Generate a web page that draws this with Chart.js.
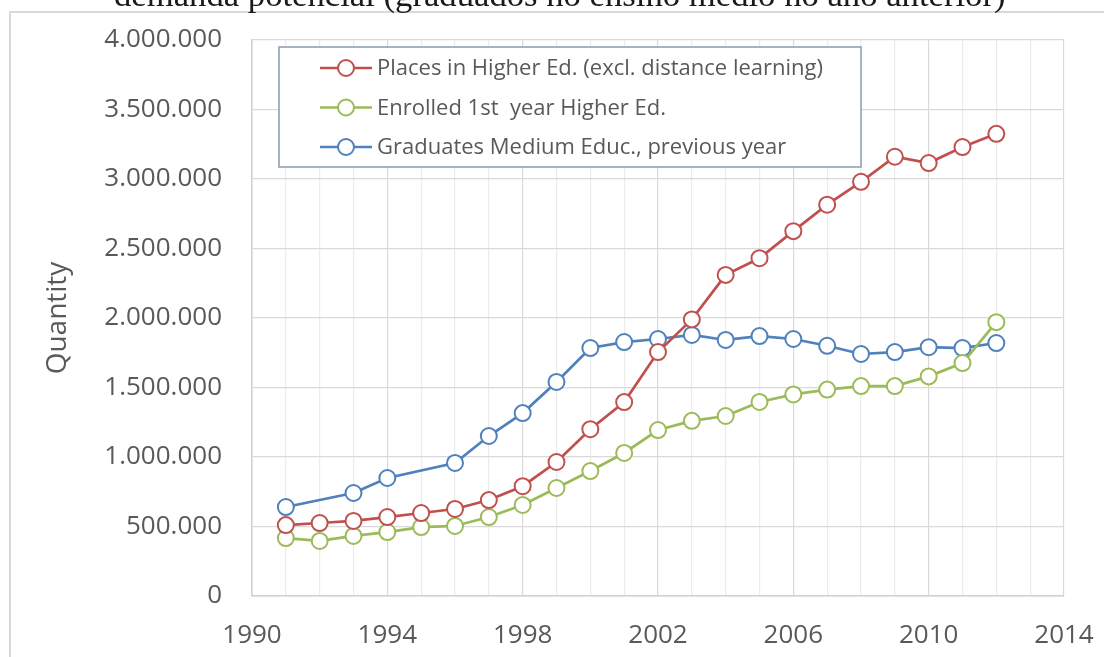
<!DOCTYPE html>
<html>
<head>
<meta charset="utf-8">
<script src="https://cdn.jsdelivr.net/npm/chart.js@4.4.1/dist/chart.umd.min.js"></script>
<style>
  html, body { margin: 0; padding: 0; background: #ffffff; overflow: hidden; }
  #wrap { position: relative; width: 1104px; height: 657px; }
</style>
</head>
<body>
<div id="wrap"><canvas id="c" width="1104" height="657"></canvas></div>
<script>
// ---- data ----
const chartTitle = 'demanda potencial (graduados no ensino médio no ano anterior)';
const years = [1991, 1992, 1993, 1994, 1995, 1996, 1997, 1998, 1999, 2000, 2001,
               2002, 2003, 2004, 2005, 2006, 2007, 2008, 2009, 2010, 2011, 2012];
const placesHigherEd = [510000, 525000, 540000, 568000, 597000, 626000, 690000, 790000, 964000, 1200000, 1395000,
                        1755000, 1990000, 2310000, 2430000, 2625000, 2815000, 2980000, 3160000, 3115000, 3230000, 3325000];
const enrolledFirstYear = [417000, 396000, 432000, 460000, 496000, 504000, 568000, 655000, 777000, 899000, 1029000,
                           1194000, 1260000, 1295000, 1396000, 1450000, 1485000, 1510000, 1510000, 1580000, 1676000, 1970000];
const graduatesMedium = [640000, null, 741000, 849000, null, 957000, 1151000, 1316000, 1540000, 1784000, 1827000,
                         1849000, 1878000, 1842000, 1870000, 1849000, 1800000, 1741000, 1755000, 1790000, 1784000, 1820000];
const seriesLabels = ['Places in Higher Ed. (excl. distance learning)',
                      'Enrolled 1st  year Higher Ed.',
                      'Graduates Medium Educ., previous year'];
const yTickValues = [0, 500000, 1000000, 1500000, 2000000, 2500000, 3000000, 3500000, 4000000];
const xTickLabels = [1990, 1994, 1998, 2002, 2006, 2010, 2014];
const yAxisTitle = 'Quantity';

const colors = ['#c0504d', '#9bbb59', '#4f81bd'];
const textColor = '#595959';
const uiFont = "'Open Sans', 'DejaVu Sans', sans-serif";

function toPoints(vals) { return years.map((yr, i) => ({ x: yr, y: vals[i] })); }
function fmt(v) { return String(v).replace(/\B(?=(\d{3})+(?!\d))/g, '.'); }

function ds(label, vals, color) {
  return {
    label: label,
    data: toPoints(vals),
    borderColor: color,
    backgroundColor: '#ffffff',
    borderWidth: 2.7,
    pointRadius: 8,
    pointBorderWidth: 2,
    pointBackgroundColor: '#ffffff',
    pointBorderColor: color,
    pointHoverRadius: 8,
    spanGaps: true,
    tension: 0
  };
}

function zeroPad(scale) {
  scale.paddingTop = 0; scale.paddingBottom = 0;
  scale.paddingLeft = 0; scale.paddingRight = 0;
}

// Frame + cut-off title drawn behind the chart
const decor = {
  id: 'decor',
  beforeDraw(chart) {
    const ctx = chart.ctx;
    ctx.save();
    ctx.fillStyle = '#ffffff';
    ctx.fillRect(0, 0, chart.width, chart.height);
    ctx.strokeStyle = '#d9d9d9';
    ctx.lineWidth = 2;
    ctx.strokeRect(10, 12, chart.width + 20, chart.height + 20);
    let size = 30;
    ctx.font = size + "px 'Liberation Serif', 'DejaVu Serif', serif";
    const w = ctx.measureText(chartTitle).width;
    size = size * 892 / w;
    ctx.font = size + "px 'Liberation Serif', 'DejaVu Serif', serif";
    ctx.fillStyle = '#1a1a1a';
    ctx.textAlign = 'left';
    ctx.textBaseline = 'alphabetic';
    ctx.fillText(chartTitle, 114, 6);
    ctx.restore();
  }
};

// Legend box inside the plot area
const boxLegend = {
  id: 'boxLegend',
  afterDraw(chart) {
    const ctx = chart.ctx;
    const bx = 279, by = 47, bw = 582, bh = 120;
    ctx.save();
    ctx.fillStyle = '#ffffff';
    ctx.fillRect(bx, by, bw, bh);
    ctx.strokeStyle = '#8a9bb0';
    ctx.lineWidth = 1.5;
    ctx.strokeRect(bx, by, bw, bh);
    ctx.font = '22px ' + uiFont;
    ctx.textBaseline = 'middle';
    ctx.textAlign = 'left';
    chart.data.datasets.forEach((d, i) => {
      const cy = 68 + i * 39.5;
      ctx.strokeStyle = d.borderColor;
      ctx.lineWidth = 2.7;
      ctx.beginPath();
      ctx.moveTo(320, cy);
      ctx.lineTo(372, cy);
      ctx.stroke();
      ctx.beginPath();
      ctx.arc(346, cy, 8, 0, Math.PI * 2);
      ctx.fillStyle = '#ffffff';
      ctx.fill();
      ctx.lineWidth = 2;
      ctx.stroke();
      ctx.fillStyle = textColor;
      ctx.fillText(d.label, 377, cy + 1);
    });
    ctx.restore();
  }
};

new Chart(document.getElementById('c'), {
  type: 'line',
  data: {
    datasets: [
      ds(seriesLabels[0], placesHigherEd, colors[0]),
      ds(seriesLabels[1], enrolledFirstYear, colors[1]),
      ds(seriesLabels[2], graduatesMedium, colors[2])
    ]
  },
  options: {
    responsive: false,
    animation: false,
    events: [],
    layout: { padding: { top: 40, right: 40, left: 0, bottom: 0 } },
    plugins: {
      legend: { display: false },
      title: { display: false },
      tooltip: { enabled: false }
    },
    scales: {
      x: {
        type: 'linear',
        min: 1990,
        max: 2014,
        afterFit(scale) { scale.height = 61; zeroPad(scale); },
        afterBuildTicks(scale) {
          const t = [];
          for (let v = 1990; v <= 2014; v++) t.push({ value: v });
          scale.ticks = t;
        },
        ticks: {
          autoSkip: false,
          maxRotation: 0,
          padding: 24,
          color: textColor,
          font: { family: uiFont, size: 26 },
          callback: (v) => xTickLabels.includes(v) ? String(v) : ''
        },
        grid: {
          drawTicks: false,
          color: (c) => (c.tick && xTickLabels.includes(c.tick.value)) ? '#d9d9d9' : '#ececec',
          lineWidth: 1.2
        },
        border: { color: '#d0d0d0', width: 1.5 }
      },
      y: {
        min: 0,
        max: 4000000,
        afterFit(scale) { scale.width = 252; zeroPad(scale); },
        afterBuildTicks(scale) { scale.ticks = yTickValues.map(v => ({ value: v })); },
        ticks: {
          padding: 30,
          color: textColor,
          font: { family: uiFont, size: 26 },
          callback: (v) => fmt(v)
        },
        grid: { drawTicks: false, color: '#d9d9d9', lineWidth: 1.2 },
        border: { color: '#d0d0d0', width: 1.5 },
        title: {
          display: true,
          text: yAxisTitle,
          color: textColor,
          font: { family: uiFont, size: 28 },
          padding: { top: 41, bottom: 0 }
        }
      }
    }
  },
  plugins: [decor, boxLegend]
});
</script>
</body>
</html>
